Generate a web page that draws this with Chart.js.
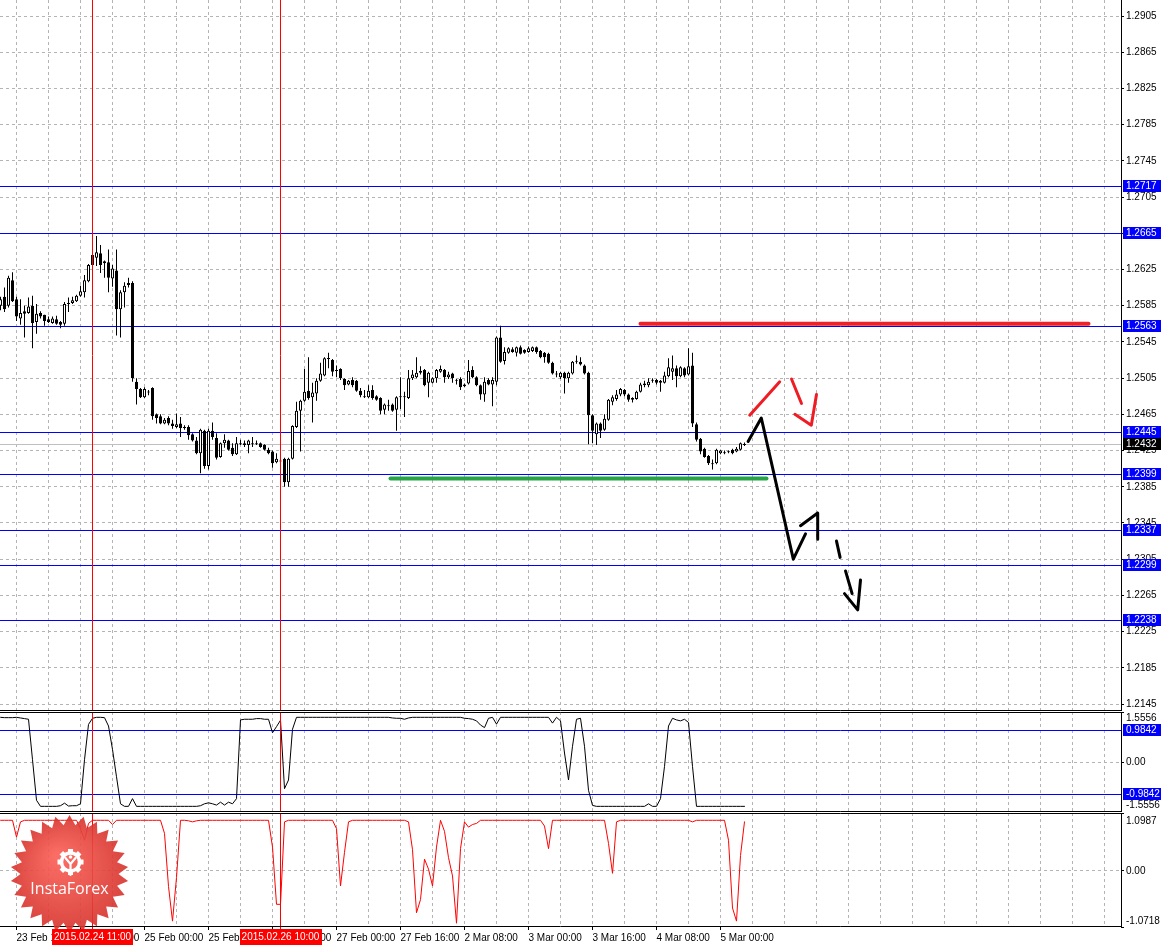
<!DOCTYPE html>
<html>
<head>
<meta charset="utf-8">
<script src="https://cdn.jsdelivr.net/npm/chart.js@4.4.1/dist/chart.umd.min.js"></script>
<style>
html, body { margin: 0; padding: 0; background: #fff; }
#wrap { position: relative; width: 1163px; height: 946px; overflow: hidden; background: #fff; }
canvas { position: absolute; left: 0; }
</style>
</head>
<body>
<div id="wrap">
  <canvas id="main" width="1163" height="711" style="top:0px"></canvas>
  <canvas id="osc1" width="1163" height="100" style="top:712px"></canvas>
  <canvas id="osc2" width="1163" height="133" style="top:813px"></canvas>
</div>
<script>
// EURUSD H1, 23 Feb - 5 Mar 2015 (bar index 0 = 23 Feb 12:00)
var opens = [1.2585,1.2595,1.2585,1.2613,1.2592,1.2571,1.2579,1.2577,1.2585,1.2567,
1.2577,1.2575,1.2570,1.2566,1.2570,1.2567,1.2565,1.2587,1.2588,1.2590,
1.2596,1.2600,1.2612,1.2630,1.2638,1.2643,1.2634,1.2633,1.2615,1.2624,
1.2581,1.2600,1.2608,1.2610,1.2501,1.2493,1.2484,1.2489,1.2494,1.2465,
1.2463,1.2455,1.2461,1.2455,1.2451,1.2455,1.2451,1.2451,1.2443,1.2436,
1.2422,1.2447,1.2408,1.2447,1.2439,1.2418,1.2433,1.2436,1.2428,1.2421,
1.2433,1.2433,1.2431,1.2432,1.2433,1.2433,1.2431,1.2426,1.2424,1.2412,
1.2414,1.2416,1.2390,1.2416,1.2451,1.2469,1.2480,1.2491,1.2484,1.2488,
1.2502,1.2508,1.2527,1.2525,1.2514,1.2515,1.2504,1.2498,1.2503,1.2502,
1.2491,1.2485,1.2484,1.2492,1.2485,1.2483,1.2470,1.2475,1.2476,1.2470,
1.2485,1.2484,1.2483,1.2505,1.2506,1.2511,1.2514,1.2500,1.2500,1.2505,
1.2512,1.2514,1.2506,1.2510,1.2503,1.2504,1.2496,1.2499,1.2514,1.2506,
1.2497,1.2487,1.2503,1.2498,1.2501,1.2550,1.2524,1.2533,1.2537,1.2533,
1.2539,1.2536,1.2534,1.2535,1.2539,1.2535,1.2533,1.2532,1.2522,1.2509,
1.2506,1.2511,1.2505,1.2510,1.2524,1.2523,1.2519,1.2511,1.2464,1.2443,
1.2455,1.2448,1.2459,1.2479,1.2482,1.2487,1.2492,1.2487,1.2483,1.2482,
1.2490,1.2497,1.2497,1.2502,1.2503,1.2502,1.2500,1.2507,1.2512,1.2516,
1.2507,1.2516,1.2509,1.2519,1.2454,1.2438,1.2427,1.2419,1.2411,1.2411,
1.2422,1.2423,1.2424,1.2426,1.2424,1.2426,1.2431];
var highs = [1.2595,1.2605,1.2618,1.2622,1.2595,1.2592,1.2585,1.2594,1.2596,1.2587,
1.2579,1.2575,1.2573,1.2573,1.2574,1.2568,1.2589,1.2594,1.2595,1.2597,
1.2607,1.2619,1.2631,1.2643,1.2662,1.2652,1.2635,1.2647,1.2630,1.2647,
1.2602,1.2611,1.2616,1.2612,1.2505,1.2494,1.2495,1.2492,1.2495,1.2466,
1.2465,1.2461,1.2463,1.2459,1.2466,1.2462,1.2453,1.2453,1.2444,1.2440,
1.2449,1.2448,1.2449,1.2456,1.2444,1.2434,1.2443,1.2437,1.2433,1.2440,
1.2437,1.2436,1.2437,1.2440,1.2436,1.2434,1.2432,1.2428,1.2425,1.2422,
1.2416,1.2417,1.2417,1.2453,1.2479,1.2481,1.2515,1.2528,1.2500,1.2505,
1.2522,1.2528,1.2533,1.2526,1.2519,1.2516,1.2505,1.2503,1.2506,1.2503,
1.2494,1.2492,1.2497,1.2497,1.2486,1.2484,1.2477,1.2481,1.2477,1.2485,
1.2506,1.2490,1.2514,1.2514,1.2528,1.2518,1.2515,1.2512,1.2506,1.2515,
1.2519,1.2515,1.2512,1.2511,1.2504,1.2506,1.2499,1.2525,1.2518,1.2507,
1.2498,1.2506,1.2505,1.2506,1.2551,1.2563,1.2539,1.2539,1.2539,1.2540,
1.2541,1.2537,1.2540,1.2540,1.2540,1.2536,1.2534,1.2533,1.2523,1.2513,
1.2512,1.2512,1.2512,1.2524,1.2530,1.2528,1.2520,1.2512,1.2465,1.2456,
1.2456,1.2465,1.2482,1.2486,1.2492,1.2494,1.2493,1.2488,1.2484,1.2491,
1.2500,1.2502,1.2505,1.2505,1.2504,1.2503,1.2512,1.2527,1.2530,1.2519,
1.2518,1.2517,1.2538,1.2533,1.2456,1.2439,1.2428,1.2420,1.2415,1.2427,
1.2426,1.2425,1.2425,1.2427,1.2429,1.2434,1.2434];
var lows = [1.2580,1.2578,1.2583,1.2589,1.2568,1.2564,1.2550,1.2576,1.2538,1.2554,
1.2571,1.2563,1.2566,1.2565,1.2564,1.2560,1.2563,1.2578,1.2587,1.2589,
1.2595,1.2594,1.2611,1.2629,1.2629,1.2621,1.2616,1.2600,1.2606,1.2552,
1.2550,1.2583,1.2605,1.2501,1.2476,1.2483,1.2483,1.2486,1.2459,1.2455,
1.2454,1.2454,1.2453,1.2449,1.2450,1.2440,1.2448,1.2437,1.2435,1.2421,
1.2400,1.2405,1.2404,1.2437,1.2415,1.2417,1.2428,1.2425,1.2419,1.2420,
1.2431,1.2429,1.2422,1.2429,1.2431,1.2428,1.2425,1.2421,1.2406,1.2411,
1.2411,1.2385,1.2385,1.2415,1.2450,1.2424,1.2479,1.2481,1.2456,1.2480,
1.2501,1.2507,1.2516,1.2507,1.2506,1.2503,1.2492,1.2497,1.2495,1.2490,
1.2484,1.2483,1.2483,1.2481,1.2480,1.2465,1.2465,1.2469,1.2468,1.2447,
1.2471,1.2462,1.2482,1.2503,1.2505,1.2509,1.2496,1.2484,1.2499,1.2500,
1.2511,1.2500,1.2504,1.2500,1.2498,1.2492,1.2495,1.2498,1.2505,1.2496,
1.2481,1.2479,1.2497,1.2474,1.2497,1.2522,1.2520,1.2532,1.2533,1.2529,
1.2531,1.2532,1.2533,1.2534,1.2532,1.2527,1.2522,1.2521,1.2509,1.2506,
1.2504,1.2488,1.2500,1.2509,1.2521,1.2519,1.2509,1.2432,1.2433,1.2431,
1.2439,1.2447,1.2458,1.2475,1.2480,1.2485,1.2485,1.2479,1.2478,1.2481,
1.2489,1.2495,1.2495,1.2500,1.2498,1.2490,1.2499,1.2506,1.2503,1.2495,
1.2506,1.2506,1.2508,1.2451,1.2435,1.2421,1.2417,1.2409,1.2404,1.2410,
1.2421,1.2421,1.2422,1.2421,1.2423,1.2425,1.2430];
var closes = [1.2592,1.2581,1.2616,1.2590,1.2573,1.2577,1.2576,1.2584,1.2566,1.2576,
1.2573,1.2568,1.2567,1.2571,1.2565,1.2564,1.2587,1.2588,1.2591,1.2596,
1.2601,1.2613,1.2630,1.2641,1.2644,1.2630,1.2632,1.2616,1.2626,1.2581,
1.2600,1.2607,1.2610,1.2505,1.2493,1.2484,1.2493,1.2490,1.2463,1.2461,
1.2455,1.2459,1.2455,1.2452,1.2454,1.2450,1.2450,1.2442,1.2436,1.2422,
1.2448,1.2408,1.2447,1.2440,1.2417,1.2433,1.2437,1.2426,1.2421,1.2433,
1.2432,1.2431,1.2436,1.2433,1.2432,1.2429,1.2426,1.2422,1.2411,1.2416,
1.2413,1.2390,1.2416,1.2452,1.2469,1.2480,1.2490,1.2483,1.2489,1.2502,
1.2510,1.2527,1.2526,1.2512,1.2513,1.2505,1.2497,1.2502,1.2497,1.2491,
1.2486,1.2484,1.2491,1.2483,1.2481,1.2469,1.2476,1.2474,1.2469,1.2484,
1.2484,1.2485,1.2505,1.2509,1.2511,1.2513,1.2497,1.2511,1.2505,1.2514,
1.2515,1.2506,1.2509,1.2505,1.2502,1.2495,1.2498,1.2513,1.2506,1.2497,
1.2487,1.2501,1.2498,1.2503,1.2550,1.2523,1.2534,1.2538,1.2534,1.2539,
1.2532,1.2533,1.2538,1.2539,1.2534,1.2528,1.2528,1.2522,1.2510,1.2510,
1.2511,1.2505,1.2511,1.2523,1.2523,1.2520,1.2510,1.2464,1.2447,1.2455,
1.2447,1.2460,1.2481,1.2484,1.2487,1.2493,1.2487,1.2481,1.2481,1.2490,
1.2498,1.2499,1.2501,1.2503,1.2500,1.2500,1.2508,1.2517,1.2516,1.2507,
1.2517,1.2508,1.2518,1.2455,1.2437,1.2424,1.2418,1.2411,1.2410,1.2426,
1.2425,1.2422,1.2423,1.2422,1.2427,1.2433,1.2432];

// indicator windows
var osc1 = [1.39,1.38,1.38,1.38,1.39,1.37,1.35,1.33,0.07,-1.19,
-1.38,-1.38,-1.38,-1.38,-1.38,-1.36,-1.28,-1.37,-1.36,-1.36,
-1.30,0.07,1.17,1.36,1.39,1.39,1.38,1.12,0.39,-0.46,
-1.30,-1.38,-1.38,-1.14,-1.38,-1.38,-1.38,-1.38,-1.38,-1.38,
-1.38,-1.38,-1.38,-1.38,-1.38,-1.38,-1.38,-1.38,-1.38,-1.38,
-1.36,-1.30,-1.27,-1.30,-1.34,-1.25,-1.34,-1.25,-1.30,-1.14,
1.31,1.33,1.33,1.33,1.35,1.35,1.33,1.33,0.91,1.10,
1.30,-0.83,-0.56,1.02,1.39,1.39,1.39,1.39,1.39,1.39,
1.39,1.39,1.39,1.39,1.39,1.39,1.39,1.39,1.39,1.39,
1.39,1.39,1.39,1.39,1.39,1.39,1.39,1.39,1.37,1.36,
1.36,1.33,1.37,1.39,1.39,1.39,1.39,1.39,1.39,1.39,
1.39,1.39,1.39,1.39,1.39,1.39,1.36,1.35,1.33,1.28,
1.15,1.07,1.36,1.39,1.18,1.39,1.39,1.39,1.39,1.39,
1.39,1.39,1.39,1.39,1.39,1.39,1.39,1.39,1.21,1.39,
1.28,0.28,-0.56,0.49,1.33,1.36,0.49,-0.88,-1.35,-1.38,
-1.38,-1.38,-1.38,-1.38,-1.38,-1.38,-1.38,-1.38,-1.38,-1.38,
-1.38,-1.38,-1.30,-1.38,-1.38,-1.14,-0.14,1.12,1.36,1.31,
1.28,1.33,1.23,-0.14,-1.38,-1.38,-1.38,-1.38,-1.38,-1.38,
-1.38,-1.38,-1.38,-1.38,-1.38,-1.38,-1.38];
var osc2 = [0.96,0.96,0.96,0.96,0.64,0.93,0.96,0.96,0.96,0.96,
0.96,0.96,0.96,0.96,0.96,0.96,0.96,0.96,0.96,0.96,
0.80,0.58,0.90,0.96,0.96,0.96,0.96,0.96,0.88,0.96,
0.96,0.96,0.96,0.96,0.96,0.96,0.96,0.96,0.96,0.96,
0.96,0.71,-0.30,-0.96,-0.13,0.96,0.96,0.95,0.93,0.95,
0.96,0.96,0.96,0.96,0.96,0.96,0.96,0.96,0.96,0.96,
0.96,0.96,0.96,0.96,0.96,0.96,0.96,0.96,0.45,-0.64,
-0.64,0.93,0.96,0.96,0.96,0.96,0.96,0.96,0.96,0.96,
0.96,0.96,0.96,0.96,0.80,-0.29,0.35,0.93,0.96,0.96,
0.96,0.96,0.96,0.96,0.96,0.96,0.96,0.96,0.96,0.96,
0.96,0.96,0.93,0.40,-0.80,-0.55,0.22,0.03,-0.29,0.45,
0.96,0.75,0.25,-0.10,-1.00,0.42,0.93,0.83,0.88,0.90,
0.96,0.96,0.96,0.96,0.96,0.96,0.96,0.96,0.96,0.96,
0.96,0.96,0.96,0.96,0.96,0.96,0.85,0.42,0.96,0.96,
0.96,0.96,0.96,0.96,0.96,0.96,0.96,0.96,0.96,0.96,
0.96,0.96,0.52,-0.05,0.93,0.96,0.96,0.96,0.96,0.96,
0.96,0.96,0.96,0.96,0.96,0.96,0.96,0.96,0.96,0.96,
0.96,0.96,0.96,0.93,0.96,0.96,0.96,0.96,0.96,0.96,
0.96,0.96,0.58,-0.71,-0.96,0.29,0.93];

// levels and axis texts
var priceTicks = [1.2145,1.2185,1.2225,1.2265,1.2305,1.2345,1.2385,1.2425,1.2465,1.2505,
                  1.2545,1.2585,1.2625,1.2665,1.2705,1.2745,1.2785,1.2825,1.2865,1.2905];
var levelPrices = [1.2717, 1.2665, 1.2563, 1.2445, 1.2399, 1.2337, 1.2299, 1.2238];
var bidPrice = 1.2432;
var osc1Range = [-1.5556, 1.5556];
var osc2Range = [-1.0718, 1.0987];
var osc1Levels = [0.9842, -0.9842];
var dateLabelBars = [4, 20, 36, 52, 68, 84, 100, 116, 132, 148, 164, 180];
var dateLabels = ['23 Feb 16:00', '24 Feb 08:00', '25 Feb 00:00', '25 Feb 16:00', '26 Feb 08:00', '27 Feb 00:00',
                  '27 Feb 16:00', '2 Mar 08:00', '3 Mar 00:00', '3 Mar 16:00', '4 Mar 08:00', '5 Mar 00:00'];
var markerBars = [23, 70];
var markerLabels = ['2015.02.24 11:00', '2015.02.26 10:00'];

// hand drawn marks (bar index, price)
var resistanceBars = [160, 272], resistancePrice = 1.2565;
var supportBars = [97.5, 191.5], supportPrice = 1.2394;
var redPathBars   = [187.3, 194.8, null, 197.75, 200.25, null, 198.6, 202.7, 204];
var redPathPrices = [1.2464, 1.2501, null, 1.2504, 1.2477, null, 1.2465, 1.2453, 1.2487];
var blackPathBars   = [186.9, 190.2, 198.2, 201.25, null, 200, 204.3, 204.3, null, 209, 209.9, null, 211.25, 212.9, null, 211, 214.3, 215];
var blackPathPrices = [1.2435, 1.2461, 1.2305, 1.2333, null, 1.2342, 1.2356, 1.2327, null, 1.2325, 1.2307, null, 1.2292, 1.2267, null, 1.2267, 1.2249, 1.2282];

var GRID = '#b4b4b4';
var FONT = '10px "Liberation Sans", Arial, sans-serif';
Chart.defaults.font.family = '"Liberation Sans", Arial, sans-serif';
Chart.defaults.font.size = 10;
Chart.defaults.color = '#000';

var gridBars = [];
for (var b = 4; b <= 280; b += 8) gridBars.push(b);

function noPad(s) { s.paddingTop = 0; s.paddingBottom = 0; s.paddingLeft = 0; s.paddingRight = 0; }

function xScale(withLabels) {
  return {
    type: 'linear', min: -0.125, max: 280.125, offset: false,
    afterBuildTicks: function (s) { s.ticks = gridBars.map(function (v) { return { value: v }; }); },
    afterFit: function (s) { s.height = withLabels ? 19 : 0; noPad(s); },
    grid: {
      offset: false, color: GRID, lineWidth: 1, borderDash: [3, 3],
      drawTicks: withLabels, tickLength: 3, tickBorderDash: [],
      tickColor: function (c) { return c.tick && dateLabelBars.indexOf(c.tick.value) >= 0 ? '#000' : 'rgba(0,0,0,0)'; }
    },
    border: { display: false, dash: [3, 3] },
    ticks: {
      display: withLabels, autoSkip: false, maxRotation: 0, minRotation: 0, align: 'start', padding: 2, color: '#000',
      callback: function (v) { var i = dateLabelBars.indexOf(v); return i >= 0 ? dateLabels[i] : ''; }
    }
  };
}

function oscScale(range) {
  return {
    type: 'linear', position: 'right', min: range[0], max: range[1],
    afterBuildTicks: function (s) { s.ticks = [{ value: range[0] }, { value: 0 }, { value: range[1] }]; },
    afterFit: function (s) { s.width = 42; noPad(s); },
    grid: {
      color: function (c) { return c.tick && c.tick.value === 0 ? GRID : 'rgba(0,0,0,0)'; },
      borderDash: [3, 3], drawTicks: true, tickLength: 3, tickColor: '#000', tickBorderDash: []
    },
    border: { display: true, color: '#000', width: 1, dash: [3, 3] },
    ticks: { display: false }
  };
}

function hLine(ctx, a, py, color) {
  var yy = Math.round(py) + 0.5;
  ctx.strokeStyle = color; ctx.lineWidth = 1;
  ctx.beginPath(); ctx.moveTo(a.left, yy); ctx.lineTo(a.right, yy); ctx.stroke();
}

function drawMarkers(chart, extra) {
  var ctx = chart.ctx, a = chart.chartArea, x = chart.scales.x;
  ctx.save();
  ctx.strokeStyle = '#ff0000'; ctx.lineWidth = 1;
  markerBars.forEach(function (b) {
    var px = Math.round(x.getPixelForValue(b) - 0.5) + 0.5;
    ctx.beginPath(); ctx.moveTo(px, a.top); ctx.lineTo(px, a.bottom + (extra || 0)); ctx.stroke();
  });
  ctx.restore();
}

function priceBox(chart, value, text, bg) {
  var ctx = chart.ctx, a = chart.chartArea, y = chart.scales.y;
  var py = Math.round(y.getPixelForValue(value));
  ctx.fillStyle = bg;
  ctx.fillRect(a.right + 2, py - 6, 38, 12);
  ctx.fillStyle = '#fff'; ctx.font = FONT; ctx.textAlign = 'left'; ctx.textBaseline = 'middle';
  ctx.fillText(text, a.right + 5, py);
}

function axisText(chart, value, text, dy) {
  var ctx = chart.ctx, a = chart.chartArea, y = chart.scales.y;
  ctx.fillStyle = '#000'; ctx.font = FONT; ctx.textAlign = 'left'; ctx.textBaseline = 'middle';
  ctx.fillText(text, a.right + 5, Math.round(y.getPixelForValue(value)) + dy);
}

function frame(chart, top) {
  var ctx = chart.ctx, a = chart.chartArea;
  ctx.save();
  ctx.strokeStyle = '#000'; ctx.lineWidth = 1;
  ctx.beginPath();
  if (top) { ctx.moveTo(a.left, a.top + 0.5); ctx.lineTo(a.right, a.top + 0.5); }
  ctx.moveTo(a.left, a.bottom - 0.5); ctx.lineTo(a.right, a.bottom - 0.5);
  ctx.stroke();
  ctx.restore();
}

function drawLogo(ctx, cx, cy) {
  ctx.save();
  var n = 26, R = 59, r = 49;
  var g = ctx.createRadialGradient(cx - 12, cy - 18, 4, cx, cy, R);
  g.addColorStop(0, 'rgba(250,98,88,0.93)');
  g.addColorStop(1, 'rgba(214,50,44,0.9)');
  ctx.fillStyle = g;
  ctx.beginPath();
  for (var i = 0; i < n * 2; i++) {
    var ang = -Math.PI / 2 + i * Math.PI / n;
    var rad = i % 2 ? r : R;
    ctx.lineTo(cx + rad * Math.cos(ang), cy + rad * Math.sin(ang));
  }
  ctx.closePath(); ctx.fill();
  var gx = cx + 1, gy = cy - 12;
  ctx.fillStyle = '#fff';
  for (var k = 0; k < 8; k++) {
    ctx.save(); ctx.translate(gx, gy); ctx.rotate(k * Math.PI / 4);
    ctx.fillRect(-2.5, -13, 5, 5); ctx.restore();
  }
  ctx.strokeStyle = '#fff'; ctx.lineWidth = 3.5;
  ctx.beginPath(); ctx.arc(gx, gy, 9, 0, Math.PI * 2); ctx.stroke();
  ctx.lineWidth = 2.2; ctx.lineCap = 'round';
  ctx.beginPath();
  ctx.moveTo(gx - 5, gy - 4); ctx.lineTo(gx, gy + 2); ctx.lineTo(gx + 5, gy - 4);
  ctx.moveTo(gx, gy + 2); ctx.lineTo(gx, gy + 13);
  ctx.stroke();
  ctx.beginPath(); ctx.arc(gx, gy - 5, 1.8, 0, Math.PI * 2); ctx.fill();
  ctx.font = '16px "Open Sans", sans-serif'; ctx.textAlign = 'center'; ctx.textBaseline = 'alphabetic';
  ctx.fillText('InstaForex', cx, cy + 20);
  ctx.restore();
}

function lineSet(points, color, width) {
  return { type: 'line', data: points, borderColor: color, borderWidth: width, pointRadius: 0, tension: 0,
           fill: false, borderCapStyle: 'round', borderJoinStyle: 'round' };
}

function strokeSets(bars, prices, color) {
  var sets = [], cur = [];
  bars.forEach(function (b, i) {
    if (b === null) { sets.push(cur); cur = []; }
    else cur.push({ x: b, y: prices[i] });
  });
  sets.push(cur);
  return sets.map(function (d) { return lineSet(d, color, 3); });
}

var mainDecor = {
  id: 'mainDecor',
  beforeDatasetsDraw: function (chart) {
    var ctx = chart.ctx, a = chart.chartArea, y = chart.scales.y;
    ctx.save();
    hLine(ctx, a, y.getPixelForValue(bidPrice), '#c0c0c0');
    levelPrices.forEach(function (v) { hLine(ctx, a, y.getPixelForValue(v), '#0000ff'); });
    ctx.restore();
  },
  afterDatasetsDraw: function (chart) { drawMarkers(chart, 0); },
  afterDraw: function (chart) {
    var ctx = chart.ctx;
    ctx.save();
    levelPrices.forEach(function (v) { priceBox(chart, v, v.toFixed(4), '#0000ff'); });
    priceBox(chart, bidPrice, bidPrice.toFixed(4), '#000');
    ctx.restore();
    frame(chart, false);
  }
};

var osc1Decor = {
  id: 'osc1Decor',
  beforeDatasetsDraw: function (chart) {
    var ctx = chart.ctx, a = chart.chartArea, y = chart.scales.y;
    ctx.save();
    osc1Levels.forEach(function (v) { hLine(ctx, a, y.getPixelForValue(v), '#0000ff'); });
    ctx.restore();
  },
  afterDatasetsDraw: function (chart) { drawMarkers(chart, 0); },
  afterDraw: function (chart) {
    var ctx = chart.ctx;
    ctx.save();
    axisText(chart, osc1Range[1], osc1Range[1].toFixed(4), 6);
    axisText(chart, 0, '0.00', 0);
    axisText(chart, osc1Range[0], osc1Range[0].toFixed(4), -7);
    osc1Levels.forEach(function (v) { priceBox(chart, v, v.toFixed(4), '#0000ff'); });
    ctx.restore();
    frame(chart, true);
  }
};

var osc2Decor = {
  id: 'osc2Decor',
  afterDatasetsDraw: function (chart) { drawMarkers(chart, 2); },
  afterDraw: function (chart) {
    var ctx = chart.ctx, a = chart.chartArea, x = chart.scales.x;
    ctx.save();
    axisText(chart, osc2Range[1], osc2Range[1].toFixed(4), 8);
    axisText(chart, 0, '0.00', 0);
    axisText(chart, osc2Range[0], osc2Range[0].toFixed(4), -6);
    ctx.restore();
    frame(chart, true);
    drawLogo(ctx, 69.5, 61);
    ctx.save();
    ctx.font = FONT; ctx.textAlign = 'center'; ctx.textBaseline = 'middle';
    markerBars.forEach(function (b, i) {
      var px = x.getPixelForValue(b);
      var w = ctx.measureText(markerLabels[i]).width + 4;
      ctx.fillStyle = '#ff0000';
      ctx.fillRect(Math.round(px - w / 2), a.bottom + 2, Math.round(w), 16);
      ctx.fillStyle = '#fff';
      ctx.fillText(markerLabels[i], px, a.bottom + 10.5);
    });
    ctx.restore();
  }
};

var common = {
  responsive: false, animation: false, events: [],
  layout: { padding: 0 },
  plugins: { legend: { display: false }, tooltip: { enabled: false } }
};

var bodyData = opens.map(function (o, i) { return { x: i, y: [o, closes[i]] }; });
var wickData = highs.map(function (h, i) { return { x: i, y: [lows[i], h] }; });
var bodyColors = opens.map(function (o, i) { return closes[i] >= o ? '#ffffff' : '#000000'; });

var mainSets = []
  .concat(strokeSets(redPathBars, redPathPrices, '#f01c24'))
  .concat(strokeSets(blackPathBars, blackPathPrices, '#000000'))
  .concat([
    lineSet([{ x: resistanceBars[0], y: resistancePrice }, { x: resistanceBars[1], y: resistancePrice }], '#ee2028', 4),
    lineSet([{ x: supportBars[0], y: supportPrice }, { x: supportBars[1], y: supportPrice }], '#28a448', 4),
    { type: 'bar', data: bodyData, backgroundColor: bodyColors, borderColor: '#000', borderWidth: 1,
      borderSkipped: false, barThickness: 3, grouped: false, minBarLength: 1, inflateAmount: 0 },
    { type: 'bar', data: wickData, backgroundColor: '#000', borderWidth: 0,
      barThickness: 1, grouped: false, inflateAmount: 0 }
  ]);

new Chart(document.getElementById('main'), {
  type: 'bar',
  data: { datasets: mainSets },
  options: Object.assign({}, common, {
    scales: {
      x: xScale(false),
      y: {
        type: 'linear', position: 'right', min: 1.21373, max: 1.29227,
        afterBuildTicks: function (s) { s.ticks = priceTicks.map(function (v) { return { value: v }; }); },
        afterFit: function (s) { s.width = 42; noPad(s); },
        grid: { color: GRID, borderDash: [3, 3], drawTicks: true, tickLength: 3, tickColor: '#000', tickBorderDash: [] },
        border: { display: true, color: '#000', width: 1, dash: [3, 3] },
        ticks: { color: '#000', padding: 2, callback: function (v) { return v.toFixed(4); } }
      }
    }
  }),
  plugins: [mainDecor]
});

new Chart(document.getElementById('osc1'), {
  type: 'line',
  data: { datasets: [lineSet(osc1.map(function (v, i) { return { x: i, y: v }; }), '#000000', 1)] },
  options: Object.assign({}, common, { scales: { x: xScale(false), y: oscScale(osc1Range) } }),
  plugins: [osc1Decor]
});

new Chart(document.getElementById('osc2'), {
  type: 'line',
  data: { datasets: [lineSet(osc2.map(function (v, i) { return { x: i, y: v }; }), '#ff0000', 1)] },
  options: Object.assign({}, common, { scales: { x: xScale(true), y: oscScale(osc2Range) } }),
  plugins: [osc2Decor]
});
</script>
</body>
</html>
